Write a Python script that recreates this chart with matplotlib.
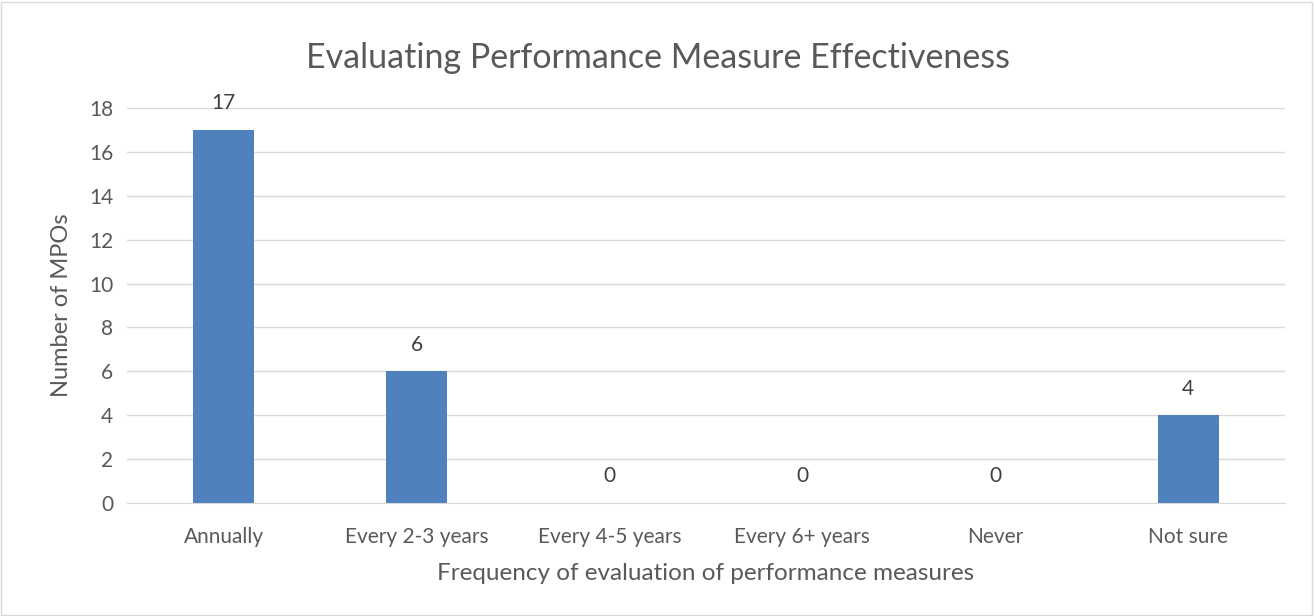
import matplotlib
matplotlib.use("Agg")
import matplotlib.pyplot as plt
from matplotlib.patches import Rectangle

categories = ["Annually", "Every 2-3 years", "Every 4-5 years",
              "Every 6+ years", "Never", "Not sure"]
counts = [17, 6, 0, 0, 0, 4]
yticks = list(range(0, 19, 2))

text_color = "#595959"
bar_color = "#4F81BD"
grid_color = "#D9D9D9"

plt.rcParams["font.family"] = ["Lato", "DejaVu Sans"]

fig = plt.figure(figsize=(13.15, 6.16), dpi=100)
ax = fig.add_axes([0.0966, 0.1834, 0.8804, 0.6413])

x = list(range(len(categories)))
ax.bar(x, counts, width=0.316, color=bar_color, zorder=3)

for xi, v in zip(x, counts):
    ax.annotate(str(v), (xi, v), xytext=(0, 12), textcoords="offset points",
                ha="center", va="bottom", fontsize=15, color="#404040")

ax.set_xlim(-0.5, len(categories) - 0.5)
ax.set_ylim(0, 18)
ax.set_yticks(yticks)
ax.set_xticks(x)
ax.set_xticklabels(categories)
ax.tick_params(axis="both", length=0, labelsize=15, colors=text_color, pad=10)
ax.tick_params(axis="x", pad=17)

ax.yaxis.grid(True, color=grid_color, linewidth=1, zorder=0)
for side in ["top", "right", "left"]:
    ax.spines[side].set_visible(False)
ax.spines["bottom"].set_color(grid_color)
ax.spines["bottom"].set_zorder(4)

ax.set_ylabel("Number of MPOs", fontsize=17, color=text_color, labelpad=12)
ax.set_xlabel("Frequency of evaluation of performance measures", fontsize=17.5,
              color=text_color, labelpad=12)
fig.suptitle("Evaluating Performance Measure Effectiveness", fontsize=24.5,
             color=text_color, y=0.932)

fig.patches.append(Rectangle((0.001, 0.002), 0.997, 0.995, transform=fig.transFigure,
                             fill=False, edgecolor=grid_color, linewidth=1))

fig.savefig("out.png", dpi=100)
